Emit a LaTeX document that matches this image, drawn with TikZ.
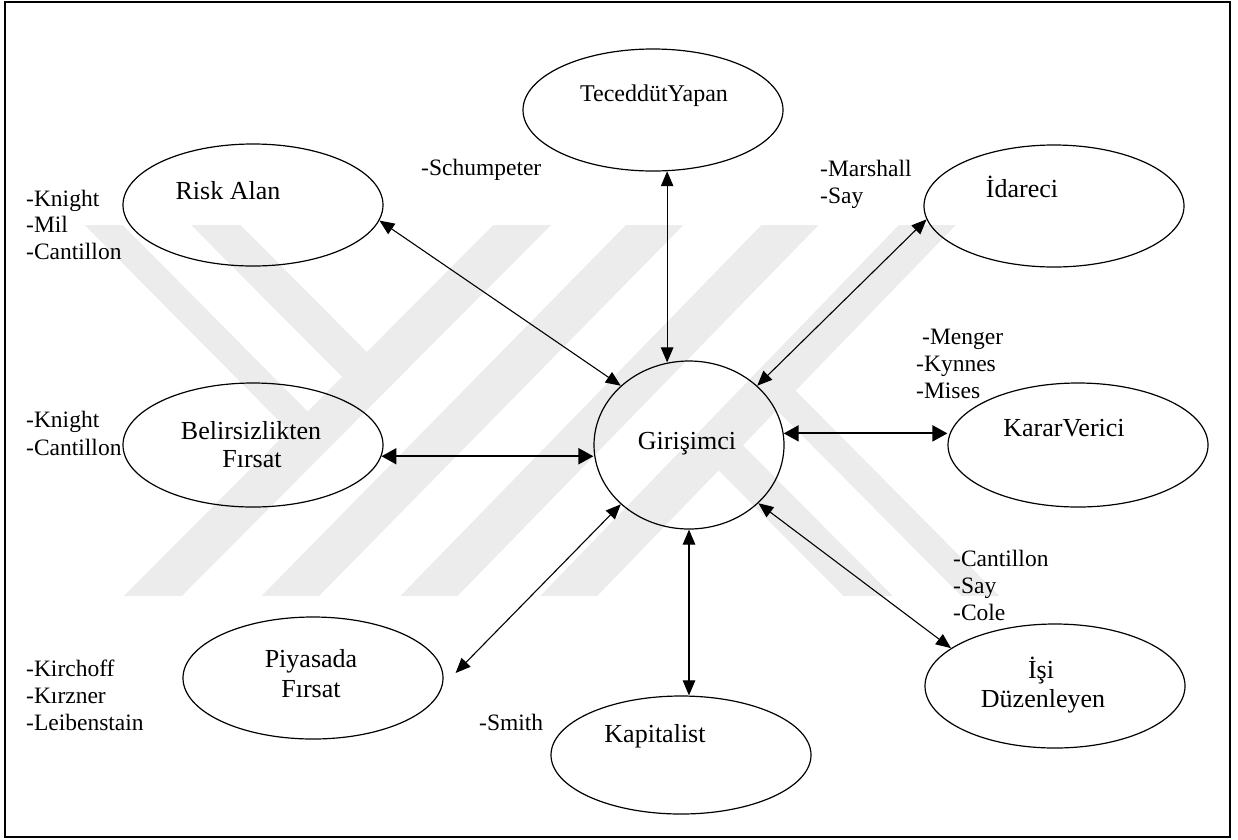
\documentclass[tikz,border=0pt]{standalone}
\usepackage{fontspec}
\setmainfont{Liberation Serif}
\usetikzlibrary{shapes.geometric,arrows.meta}
\definecolor{wm}{RGB}{236,236,236}
\begin{document}
\begin{tikzpicture}[x=1pt,y=-1pt,
  ell/.style={draw, ellipse, line width=1.2pt, inner sep=0pt},
  lab/.style={font=\fontsize{26}{30}\selectfont, anchor=base, inner sep=0pt},
  nm/.style={font=\fontsize{23.5}{27}\selectfont, anchor=base west, inner sep=0pt},
  con/.style={<->, >={Triangle[length=15pt,width=12.5pt]}, line width=1.1pt},
  thk/.style={<->, >={Triangle[length=15pt,width=16pt]}, line width=2pt},
  band/.style={line width=#1, wm}]
\useasboundingbox (0,0) rectangle (1238,839);
% watermark
\begin{scope}
\clip (0,225) rectangle (1238,595);
\draw[band=41pt] (114,635) -- (562,185);
\draw[band=41pt] (252,635) -- (694,185);
\draw[band=41pt] (391,635) -- (829,185);
\draw[band=41pt] (531,635) -- (966,185);
\draw[band=35pt] (176,185) -- (369,379);
\draw[band=27pt] (64,185) -- (313,436);
\draw[band=35pt] (714,441) -- (907,635);
\draw[band=27pt] (770,384) -- (1019,635);
\end{scope}
% border
\draw[line width=2pt] (5,2) rectangle (1230,837);
% ellipses
\node[ell, minimum width=260pt, minimum height=122pt] (tec) at (653,110) {};
\node[ell, minimum width=190pt, minimum height=168pt] (gir) at (689,445) {};
\node[ell, minimum width=260pt, minimum height=122pt] (risk) at (253,205) {};
\node[ell, minimum width=260pt, minimum height=122pt] (idar) at (1054,206) {};
\node[ell, minimum width=260pt, minimum height=124pt] (belir) at (253,445) {};
\node[ell, minimum width=260pt, minimum height=124pt] (karar) at (1078,445) {};
\node[ell, minimum width=260pt, minimum height=124pt] (isi) at (1055,686) {};
\node[ell, minimum width=260pt, minimum height=122pt] (piy) at (313,678) {};
\node[ell, minimum width=260pt, minimum height=118pt] (kap) at (681,755) {};
% labels
\node[lab, font=\fontsize{24}{28}\selectfont] (tecT) at (654,101) {TeceddütYapan};
\node[lab] (riskT) at (228,199) {Risk Alan};
\node[lab] (idarT) at (1022,197) {İdareci};
\node[lab] (belirT1) at (251,439) {Belirsizlikten};
\node[lab] (belirT2) at (252,467) {Fırsat};
\node[lab] (girT) at (687,449) {Girişimci};
\node[lab] (kararT) at (1064,436) {KararVerici};
\node[lab] (isiT1) at (1041,678) {İşi};
\node[lab] (isiT2) at (1043,707) {Düzenleyen};
\node[lab] (piyT1) at (311,667) {Piyasada};
\node[lab] (piyT2) at (311,697) {Fırsat};
\node[lab] (kapT) at (655,742) {Kapitalist};
% names
\node[nm] (n1a) at (26,206) {-Knight};
\node[nm] (n1b) at (26,232) {-Mil};
\node[nm] (n1c) at (26,259) {-Cantillon};
\node[nm] (n2a) at (26,427) {-Knight};
\node[nm] (n2b) at (26,455) {-Cantillon};
\node[nm] (n3a) at (26,676) {-Kirchoff};
\node[nm] (n3b) at (26,703) {-Kırzner};
\node[nm] (n3c) at (26,730) {-Leibenstain};
\node[nm] (n4) at (421,175) {-Schumpeter};
\node[nm] (n5a) at (820,176) {-Marshall};
\node[nm] (n5b) at (820,203) {-Say};
\node[nm] (n6a) at (922,344) {-Menger};
\node[nm] (n6b) at (916,371) {-Kynnes};
\node[nm] (n6c) at (916,398) {-Mises};
\node[nm] (n7a) at (953,566) {-Cantillon};
\node[nm] (n7b) at (953,593) {-Say};
\node[nm] (n7c) at (953,620) {-Cole};
\node[nm] (n8) at (479,730) {-Smith};
% connectors
\draw[con] (risk.-7.5) -- (gir.139.3);
\draw[con] (tec.-77) -- (tec.-77 |- gir.104.5);
\draw[con] (idar.186.1) -- (gir.41.1);
\draw[thk] (belir.-5.7) -- (belir.-5.7 -| gir.west);
\draw[thk] (gir.7.2) -- (gir.7.2 -| karar.west);
\draw[con] (gir.-139.3) -- ([xshift=12pt,yshift=5pt]piy.east);
\draw[con] (gir.south) -- (gir.south |- kap.north);
\draw[con] (gir.-40.3) -- (isi.160.9);
\end{tikzpicture}
\end{document}
